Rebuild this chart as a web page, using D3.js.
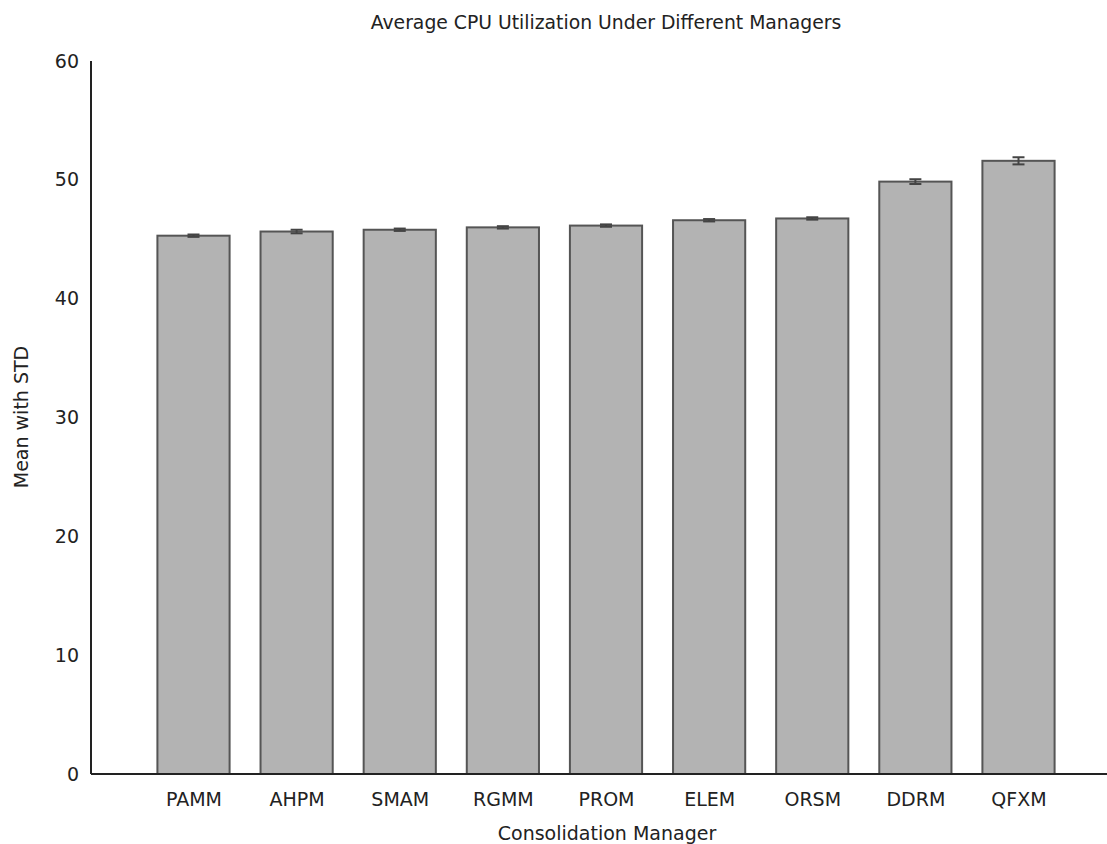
<!DOCTYPE html>
<html>
<head>
<meta charset="utf-8">
<script src="https://cdn.jsdelivr.net/npm/d3@7"></script>
<style>
html,body{margin:0;padding:0;background:#fff;}
text{font-family:"DejaVu Sans",sans-serif;fill:#222;}
</style>
</head>
<body>
<svg id="chart" width="1107" height="844"></svg>
<script>
const categories = ["PAMM","AHPM","SMAM","RGMM","PROM","ELEM","ORSM","DDRM","QFXM"];
const means = [45.3, 45.65, 45.8, 46.0, 46.15, 46.6, 46.75, 49.85, 51.6];
const stds = [0.1, 0.15, 0.1, 0.1, 0.1, 0.1, 0.1, 0.2, 0.3];
const yTicks = [0, 10, 20, 30, 40, 50, 60];

(function () {
const svg = d3.select("#chart");
const axisX = 91, plotTop = 61, plotBottom = 774, plotRight = 1107;

const y = d3.scaleLinear().domain([0, 60]).range([plotBottom, plotTop]);
const x = d3.scalePoint().domain(categories).range([193.5, 1018.5]);
const bw = x.step() * 0.7;

// bars
svg.append("g").selectAll("rect").data(categories).join("rect")
  .attr("x", d => x(d) - bw / 2)
  .attr("y", (d, i) => y(means[i]))
  .attr("width", bw)
  .attr("height", (d, i) => y(0) - y(means[i]))
  .attr("fill", "#b3b3b3")
  .attr("stroke", "#555")
  .attr("stroke-width", 2);

// error bars
const eb = svg.append("g").attr("stroke", "#444").attr("stroke-width", 2);
categories.forEach((c, i) => {
  const cx = x(c);
  eb.append("line").attr("x1", cx).attr("x2", cx)
    .attr("y1", y(means[i] - stds[i])).attr("y2", y(means[i] + stds[i]));
  [means[i] - stds[i], means[i] + stds[i]].forEach(v => {
    eb.append("line").attr("x1", cx - 6).attr("x2", cx + 6)
      .attr("y1", y(v)).attr("y2", y(v));
  });
});

// y axis
const yAxis = d3.axisLeft(y).tickValues(yTicks).tickSize(0).tickPadding(12);
const gy = svg.append("g").attr("transform", `translate(${axisX},0)`).call(yAxis);
gy.select(".domain").attr("stroke", "#222").attr("stroke-width", 2).attr("d", `M0,${plotTop}V${plotBottom}`);
gy.selectAll("text").style("font-size", "19px").attr("fill", "#222");

// x axis
const xAxis = d3.axisBottom(x).tickSize(0).tickPadding(18.5);
const gx = svg.append("g").attr("transform", `translate(0,${plotBottom})`).call(xAxis);
gx.select(".domain").attr("stroke", "#222").attr("stroke-width", 2).attr("d", `M${axisX},0H${plotRight}`);
gx.selectAll("text").style("font-size", "19px").attr("fill", "#222");

// title and labels
svg.append("text").attr("x", 606).attr("y", 29).attr("text-anchor", "middle")
  .style("font-size", "18.8px").text("Average CPU Utilization Under Different Managers");
svg.append("text").attr("x", 607).attr("y", 840).attr("text-anchor", "middle")
  .style("font-size", "19px").text("Consolidation Manager");
svg.append("text").attr("transform", "translate(28,417) rotate(-90)").attr("text-anchor", "middle")
  .style("font-size", "19px").text("Mean with STD");
})();
</script>
</body>
</html>
